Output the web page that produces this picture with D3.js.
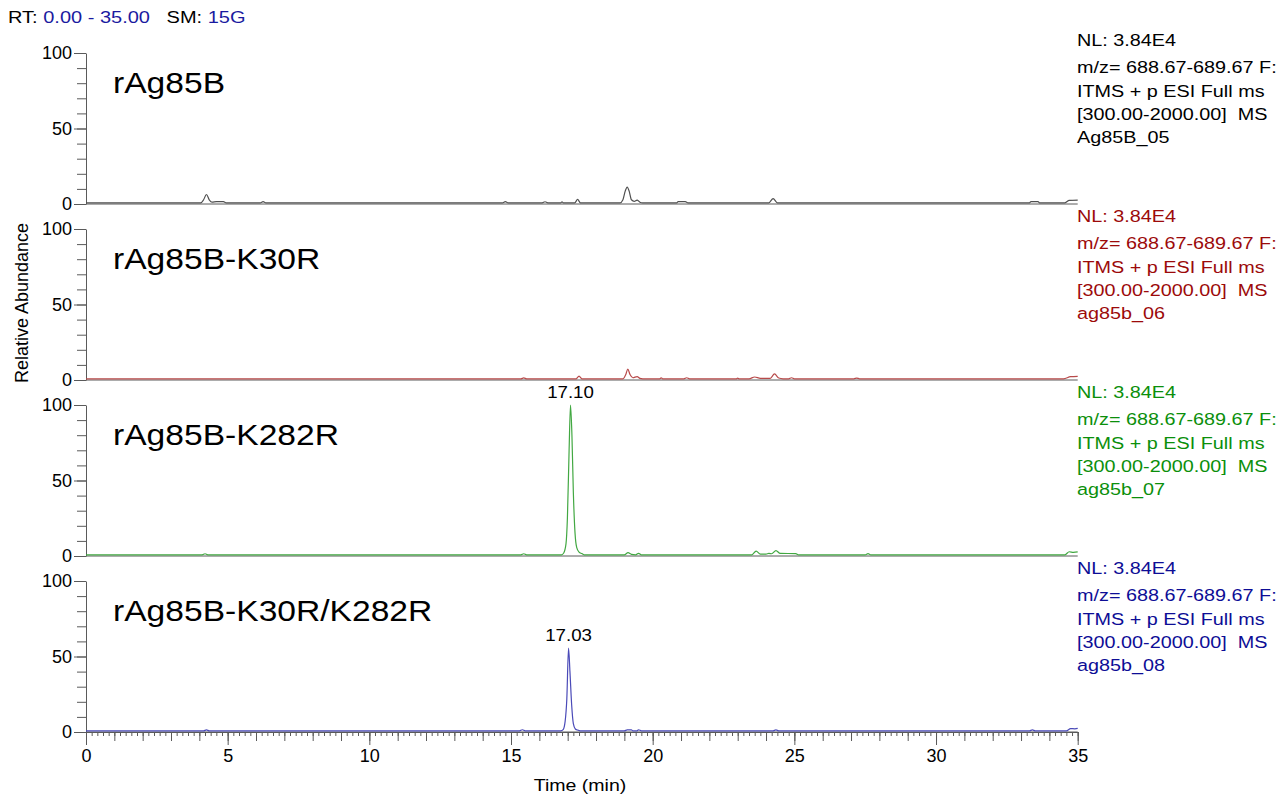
<!DOCTYPE html>
<html>
<head>
<meta charset="utf-8">
<script src="https://cdn.jsdelivr.net/npm/d3@7"></script>
<style>
body { margin: 0; background: #fff; }
text { font-family: "Liberation Sans", Arial, sans-serif; fill: #000; white-space: pre; }
</style>
</head>
<body>
<svg id="chart" width="1288" height="796"></svg>
<script>
// chromatogram data (time in min, relative abundance in %)
const samples = ['rAg85B', 'rAg85B-K30R', 'rAg85B-K282R', 'rAg85B-K30R/K282R'];
const fileNames = ['Ag85B_05', 'ag85b_06', 'ag85b_07', 'ag85b_08'];
const normLevel = 'NL: 3.84E4';
const scanInfo = ['m/z= 688.67-689.67 F:', 'ITMS + p ESI Full ms', '[300.00-2000.00]  MS'];
const rtRange = '0.00 - 35.00';
const smooth = '15G';

const trace1 = [[0,0.8],[4.05,0.8],[4.15,2.8],[4.25,6.3],[4.35,2.8],[4.45,1.2],[4.6,1.6],[4.85,1.6],[4.95,0.8],
  [6.15,0.8],[6.25,1.6],[6.35,0.8],[14.7,0.8],[14.8,1.6],[14.9,0.8],[16.1,0.8],[16.2,1.5],[16.3,0.8],
  [16.75,0.8],[16.8,1.4],[16.85,0.8],[17.25,0.8],[17.35,3],[17.45,0.8],[18.85,0.8],[18.95,2.8],[19.03,8.5],
  [19.1,11.2],[19.17,8.5],[19.25,2.8],[19.35,1.8],[19.45,2.6],[19.55,1.2],[19.65,0.8],[20.85,0.8],[20.9,1.6],
  [21.15,1.6],[21.25,0.8],[24.1,0.8],[24.25,3.6],[24.4,0.8],[33.3,0.8],[33.35,1.6],[33.6,1.6],[33.65,0.8],
  [34.55,0.8],[34.7,2.4],[35,2.6]];
const trace2 = [[0,0.8],[15.35,0.8],[15.45,1.4],[15.55,0.8],[17.3,0.8],[17.4,2.6],[17.5,0.8],[18.95,0.8],
  [19.05,3.6],[19.12,7.3],[19.2,3.6],[19.3,1.5],[19.45,2.3],[19.55,1.1],[19.65,0.8],[20.25,0.8],[20.3,1.5],
  [20.35,0.8],[21.1,0.8],[21.2,1.5],[21.3,0.8],[22.95,0.8],[23,1.3],[23.05,0.8],[23.4,0.8],[23.6,2],[23.8,1.1],
  [24.15,1.1],[24.3,4],[24.45,1.3],[24.6,0.8],[24.8,0.8],[24.9,1.5],[25,0.8],[27.1,0.8],[27.2,1.3],[27.3,0.8],
  [34.5,0.8],[34.75,2.2],[35,2.4]];
const trace3 = [[0,0.8],[4.1,0.8],[4.2,1.5],[4.3,0.8],[15.35,0.8],[15.45,1.5],[15.55,0.8],[16.78,0.8],
  [16.86,2],[16.94,8],[16.99,25],[17.05,70],[17.1,100],[17.15,80],[17.2,42],[17.26,15],[17.32,5.5],[17.4,2.6],
  [17.5,1.6],[17.58,0.8],[19,0.8],[19.13,2.2],[19.25,1.1],[19.4,0.8],[19.5,1.8],[19.6,0.8],[23.5,0.8],
  [23.65,3.2],[23.8,1.3],[24,1.2],[24.1,1.7],[24.2,1.5],[24.35,3.6],[24.5,1.7],[25.05,1.6],[25.15,0.8],
  [27.5,0.8],[27.6,1.6],[27.7,0.8],[34.55,0.8],[34.7,2.8],[34.85,2.4],[35,2.7]];
const trace4 = [[0,0.8],[4.15,0.8],[4.25,1.4],[4.35,0.8],[15.3,0.8],[15.4,1.5],[15.5,0.8],[16.76,0.8],
  [16.84,1.6],[16.91,7],[16.97,22],[17.03,55.5],[17.08,40],[17.14,18],[17.2,5.5],[17.27,2],[17.36,1.2],
  [17.44,0.8],[19,0.8],[19.1,1.4],[19.25,1.4],[19.3,0.8],[19.45,0.8],[19.5,1.5],[19.6,0.8],[24.25,0.8],
  [24.35,1.4],[24.45,0.8],[33.3,0.8],[33.4,1.4],[33.5,0.8],[34.6,0.8],[34.75,2.3],[34.9,2.1],[35,2.4]];
const traces = [trace1, trace2, trace3, trace4];

const peakLabels = [[], [], [{ t: 17.10, v: 100, label: '17.10' }], [{ t: 17.03, v: 55.5, label: '17.03' }]];

const xTicksMajor = [0, 5, 10, 15, 20, 25, 30, 35];
const yTicksMajor = [0, 50, 100];

// styles
const textColors = ['#000000', '#9c0a0a', '#0b8f0b', '#0d0d96'];
const lineColors = ['#505050', '#b84a4a', '#42a842', '#4a4ab8'];
const axisColor = '#5a5a5a';

const svg = d3.select('#chart');
const left = 86, right = 1077.7;
const panelTop = 53, panelStep = 176, panelH = 151;

const x = d3.scaleLinear().domain([0, 35]).range([left, right]);

// text that is a bit wider than the font, like the original export
function addText(g, str, px, py, size, color, sx, anchor) {
  return g.append('text')
    .attr('transform', `translate(${px},${py}) scale(${sx},1)`)
    .attr('font-size', size)
    .attr('text-anchor', anchor || 'start')
    .style('fill', color)
    .text(str);
}

// header
const head = svg.append('text')
  .attr('transform', 'translate(8,23) scale(1.25,1)')
  .attr('font-size', 16);
head.append('tspan').text('RT: ');
head.append('tspan').style('fill', '#1a1aa0').text(rtRange);
head.append('tspan').text('   SM: ');
head.append('tspan').style('fill', '#1a1aa0').text(smooth);

traces.forEach((data, i) => {
  const top = panelTop + i * panelStep;
  const y = d3.scaleLinear().domain([0, 100]).range([top + panelH, top]);
  const g = svg.append('g');

  // y axis: minor ticks every 10, labels at 0/50/100
  g.append('g')
    .attr('transform', `translate(${left},0)`)
    .call(d3.axisLeft(y).tickValues(d3.range(0, 101, 10)).tickSize(9).tickFormat('').tickSizeOuter(0))
    .call(a => a.selectAll('line,path').attr('stroke', axisColor));
  g.append('g')
    .attr('transform', `translate(${left},0)`)
    .call(d3.axisLeft(y).tickValues(yTicksMajor).tickSize(12).tickPadding(2).tickSizeOuter(0))
    .call(a => a.select('.domain').remove())
    .call(a => a.selectAll('line').attr('stroke', axisColor))
    .call(a => a.selectAll('text').attr('font-size', 18).attr('font-family', '"Liberation Sans", Arial, sans-serif').style('fill', '#000'));

  // zero line
  g.append('line')
    .attr('x1', left).attr('x2', right)
    .attr('y1', y(0)).attr('y2', y(0))
    .attr('stroke', axisColor);

  // trace
  g.append('path')
    .datum(data)
    .attr('fill', 'none')
    .attr('stroke', lineColors[i])
    .attr('stroke-width', 1.2)
    .attr('d', d3.line().x(d => x(d[0])).y(d => y(d[1])).curve(d3.curveMonotoneX));

  // peak labels
  peakLabels[i].forEach(p => {
    addText(g, p.label, x(p.t), y(p.v) - 7, 17, '#000', 1.1, 'middle');
  });

  // sample name
  addText(g, samples[i], 113, top + 40, 30, '#000', 1.12);

  // scan info at right
  const info = [normLevel].concat(scanInfo, [fileNames[i]]);
  const rows = [-7, 20, 43.5, 67, 90];
  info.forEach((s, k) => addText(g, s, 1077, top + rows[k], 16.5, textColors[i], 1.2));
});

// bottom time axis
const bottom = panelTop + 3 * panelStep + panelH;
const xa = svg.append('g').attr('transform', `translate(0,${bottom})`);
xa.append('g')
  .call(d3.axisBottom(x).tickValues(d3.range(0, 35.01, 0.2)).tickSize(4).tickFormat('').tickSizeOuter(0))
  .call(a => a.selectAll('line,path').attr('stroke', axisColor));
xa.append('g')
  .call(d3.axisBottom(x).tickValues(d3.range(0, 36, 1)).tickSize(9).tickFormat('').tickSizeOuter(0))
  .call(a => a.select('.domain').remove())
  .call(a => a.selectAll('line').attr('stroke', axisColor));
xa.append('g')
  .call(d3.axisBottom(x).tickValues(xTicksMajor).tickSize(13).tickPadding(4).tickSizeOuter(0))
  .call(a => a.select('.domain').remove())
  .call(a => a.selectAll('line').attr('stroke', axisColor))
  .call(a => a.selectAll('text').attr('font-size', 18).attr('font-family', '"Liberation Sans", Arial, sans-serif').style('fill', '#000'));

// axis titles
addText(svg, 'Time (min)', 580, 791, 17, '#000', 1.15, 'middle');
svg.append('text')
  .attr('transform', 'translate(28,303) rotate(-90)')
  .attr('font-size', 18)
  .attr('text-anchor', 'middle')
  .text('Relative Abundance');
</script>
</body>
</html>
